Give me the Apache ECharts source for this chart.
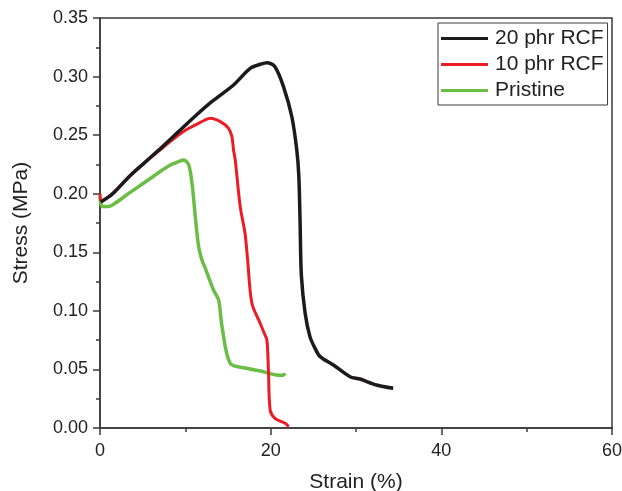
<!DOCTYPE html>
<html>
<head>
<meta charset="utf-8">
<script src="https://cdn.jsdelivr.net/npm/echarts@6/dist/echarts.min.js"></script>
<style>html,body{margin:0;padding:0;background:#fff}#c{width:622px;height:491px}</style>
</head>
<body>
<div id="c"></div>
<script>
var seriesNames = ['20 phr RCF', '10 phr RCF', 'Pristine'];
var xTicks = [0, 20, 40, 60];
var yTicks = [0, 0.05, 0.10, 0.15, 0.20, 0.25, 0.30, 0.35];

var black20 = [
  [0.1,0.193],[1.5,0.200],[3.4,0.2145],[5.3,0.227],[7.3,0.240],[9.2,0.253],[11.2,0.2666],
  [13.1,0.2786],[15.65,0.2928],[17.6,0.307],[18.8,0.3105],[19.56,0.3119],[20.5,0.3084],
  [21.5,0.2914],[22.48,0.2657],[23.06,0.2373],[23.3,0.215],[23.45,0.175],[23.6,0.130],[24.04,0.098],
  [24.6,0.078],[25.2,0.068],[25.8,0.0609],[27.35,0.0538],[29.3,0.0438],[30.47,0.0418],[32.4,0.0367],[34.36,0.0339]
];
var red10 = [
  [0.0,0.200],[0.15,0.194],[1.5,0.2005],[3.4,0.2145],[5.3,0.227],[7.3,0.239],[9.2,0.250],[10.2,0.255],[11.17,0.2587],
  [12.2,0.2625],[12.9,0.2644],[14.1,0.2615],[15.06,0.2558],[15.46,0.2487],[15.65,0.2373],[15.85,0.2288],
  [16.43,0.189],[17.0,0.166],[17.3,0.1434],[17.8,0.1065],[18.77,0.0894],[19.3,0.080],[19.56,0.0751],
  [19.74,0.0495],[19.94,0.0154],[20.5,0.0083],[21.7,0.004],[22.1,0.0011]
];
var pristine = [
  [0.0,0.197],[0.25,0.189],[1.0,0.189],[1.8,0.192],[3.37,0.2003],[5.3,0.210],[7.27,0.220],[8.25,0.2245],
  [9.2,0.2273],[9.8,0.2288],[10.4,0.2245],[10.78,0.2089],[10.97,0.196],[11.17,0.180],[11.56,0.1548],
  [11.95,0.1434],[12.34,0.1363],[13.3,0.1178],[13.9,0.1093],[14.3,0.0865],[15.26,0.0552],[17.2,0.051],
  [19.16,0.048],[20.7,0.0452],[21.4,0.045],[21.7,0.0467]
];

var colors = ['#1c1a1a', '#ed1c24', '#6abd45'];
var font = 'Liberation Sans, Arial, sans-serif';
var chart = echarts.init(document.getElementById('c'));
var axisCommon = {
  axisLine: {show: true, lineStyle: {color: '#3a3a3a', width: 1.5}},
  axisTick: {show: true, inside: false, length: 7, lineStyle: {color: '#3a3a3a', width: 1.5}},
  minorTick: {show: true, length: 4, lineStyle: {color: '#3a3a3a', width: 1.5}},
  splitLine: {show: false},
  nameTextStyle: {fontFamily: font, fontSize: 21, color: '#222'}
};
chart.setOption({
  animation: false,
  backgroundColor: '#fff',
  grid: {left: 100, right: 10, top: 18, bottom: 63, show: true, borderColor: '#3a3a3a', borderWidth: 1.5,
    containLabel: false, outerBoundsMode: 'none'},
  legend: {
    data: seriesNames, orient: 'vertical', left: 438, top: 23,
    backgroundColor: '#fff', borderColor: '#3a3a3a', borderWidth: 1,
    padding: [5, 4, 4, 3], itemGap: 5, itemWidth: 47, itemHeight: 3, icon: 'rect',
    textStyle: {fontFamily: font, fontSize: 21, color: '#222', padding: [0,0,0,2]}
  },
  xAxis: Object.assign({}, axisCommon, {
    type: 'value', min: xTicks[0], max: xTicks[xTicks.length-1], interval: 20,
    minorTick: Object.assign({}, axisCommon.minorTick, {splitNumber: 2}),
    name: 'Strain (%)', nameLocation: 'middle', nameGap: 44,
    axisLabel: {fontFamily: font, fontSize: 18, color: '#222', margin: 14}
  }),
  yAxis: Object.assign({}, axisCommon, {
    type: 'value', min: yTicks[0], max: yTicks[yTicks.length-1], interval: 0.05,
    minorTick: Object.assign({}, axisCommon.minorTick, {splitNumber: 2}),
    name: 'Stress (MPa)', nameLocation: 'middle', nameGap: 68,
    axisLabel: {fontFamily: font, fontSize: 18, color: '#222', margin: 12,
      formatter: function (v) { return v.toFixed(2); }}
  }),
  series: [
    {name: seriesNames[0], type: 'line', data: black20, showSymbol: false, symbol: 'none', smooth: 0.3,
      lineStyle: {color: colors[0], width: 3.5}, itemStyle: {color: colors[0]}, z: 3},
    {name: seriesNames[1], type: 'line', data: red10, showSymbol: false, symbol: 'none', smooth: 0.3,
      lineStyle: {color: colors[1], width: 3}, itemStyle: {color: colors[1]}, z: 2},
    {name: seriesNames[2], type: 'line', data: pristine, showSymbol: false, symbol: 'none', smooth: 0.3,
      lineStyle: {color: colors[2], width: 3.5}, itemStyle: {color: colors[2]}, z: 1}
  ]
});
</script>
</body>
</html>
